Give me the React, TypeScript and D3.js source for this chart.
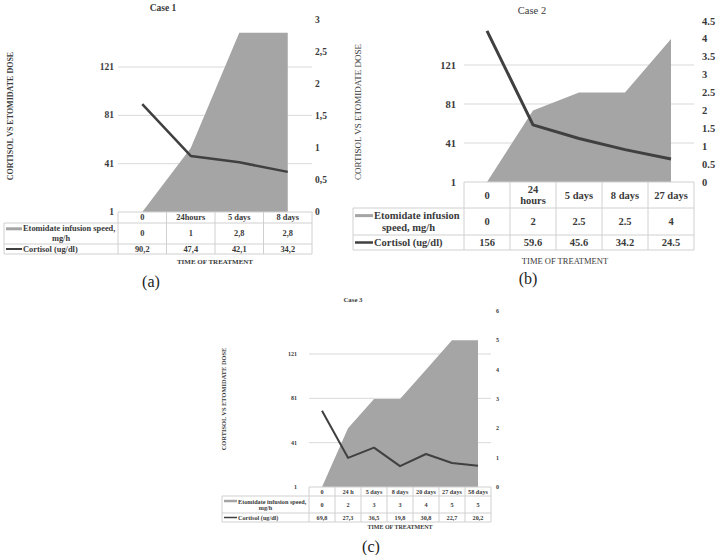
import React from "react";
import * as d3 from "d3";

// ---------- data ----------
const case1Times = ["0", "24hours", "5 days", "8 days"];
const case1Etomidate = [0, 1, 2.8, 2.8];
const case1Cortisol = [90.2, 47.4, 42.1, 34.2];

const case2Times = ["0", "24 hours", "5 days", "8 days", "27 days"];
const case2Etomidate = [0, 2, 2.5, 2.5, 4];
const case2Cortisol = [156, 59.6, 45.6, 34.2, 24.5];

const case3Times = ["0", "24 h", "5 days", "8 days", "20 days", "27 days", "58 days"];
const case3Etomidate = [0, 2, 3, 3, 4, 5, 5];
const case3Cortisol = [69.8, 27.3, 36.5, 19.8, 30.8, 22.7, 20.2];

const leftTicks = [1, 41, 81, 121];
const case1RightTicks = [0, 0.5, 1, 1.5, 2, 2.5, 3];
const case2RightTicks = [0, 0.5, 1, 1.5, 2, 2.5, 3, 3.5, 4, 4.5];
const case3RightTicks = [0, 1, 2, 3, 4, 5, 6];

const caseTitles = ["Case 1", "Case 2", "Case 3"];
const panelLetters = ["(a)", "(b)", "(c)"];
const seriesEtomidate = "Etomidate infusion speed, mg/h";
const seriesCortisol = "Cortisol (ug/dl)";
const yAxisTitle = "CORTISOL VS ETOMIDATE DOSE";
const xAxisTitle = "TIME OF TREATMENT";

// ---------- helpers ----------
const FONT = '"Liberation Serif", "Times New Roman", serif';
let _ctx: CanvasRenderingContext2D | null = null;
function textWidth(t: string, font: string) {
  if (!_ctx) _ctx = document.createElement("canvas").getContext("2d");
  _ctx!.font = font;
  return _ctx!.measureText(t).width;
}
function wrap(t: string, size: number, weight: string, max: number) {
  const font = `${weight} ${size}px "Liberation Serif"`;
  const words = t.split(" ");
  const lines: string[] = [];
  let cur = "";
  for (const w of words) {
    const test = cur ? cur + " " + w : w;
    if (cur && textWidth(test, font) > max) {
      lines.push(cur);
      cur = w;
    } else cur = test;
  }
  if (cur) lines.push(cur);
  return lines;
}
const commaFmt = (v: number) => String(v).replace(".", ",");
const dotFmt = (v: number) => String(v);

type Layout = {
  plotLeft: number; plotRight: number; yBase: number; y121: number;
  rightMax: number; yRightMax: number;
  tableLeft: number; rows: number[];
  tickSize: number; tickWeight: string; leftLabelX: number; rightLabelX: number;
  tableSize: number; headerWrap: number; labelWrap: number; swatchW: number; swatchH: number;
  title: [number, number, number, string];
  xTitle: [number, number, number, string];
  yTitle: [number, number, number, string];
  letter: [number, number, number];
  lineW: number;
};

const layout1: Layout = {
  plotLeft: 118, plotRight: 312, yBase: 212, y121: 67, rightMax: 3, yRightMax: 20,
  tableLeft: 4, rows: [212, 223, 244, 254],
  tickSize: 9.5, tickWeight: "bold", leftLabelX: 114, rightLabelX: 315,
  tableSize: 8.4, headerWrap: 44, labelWrap: 98, swatchW: 16, swatchH: 3,
  title: [163, 8, 9.5, "bold"], xTitle: [215, 262, 7, "bold"], yTitle: [10, 116, 8, "bold"],
  letter: [151, 281, 16], lineW: 2.5,
};
const layout2: Layout = {
  plotLeft: 464, plotRight: 694, yBase: 182, y121: 65, rightMax: 4.5, yRightMax: 21,
  tableLeft: 353, rows: [182, 208, 235, 250],
  tickSize: 10.5, tickWeight: "bold", leftLabelX: 456, rightLabelX: 702,
  tableSize: 10.5, headerWrap: 36, labelWrap: 90, swatchW: 18, swatchH: 3,
  title: [532, 10, 10.5, "normal"], xTitle: [565, 261, 8.5, "normal"], yTitle: [358, 112, 9, "normal"],
  letter: [528, 278, 16], lineW: 3,
};
const layout3: Layout = {
  plotLeft: 309, plotRight: 491, yBase: 487, y121: 354, rightMax: 6, yRightMax: 311,
  tableLeft: 222, rows: [487, 496, 513, 522],
  tickSize: 6, tickWeight: "bold", leftLabelX: 297, rightLabelX: 496,
  tableSize: 6.2, headerWrap: 24, labelWrap: 74, swatchW: 13, swatchH: 2.5,
  title: [353, 299, 6.8, "bold"], xTitle: [400, 527, 6, "bold"], yTitle: [223, 399, 6.4, "bold"],
  letter: [371, 546, 16], lineW: 2,
};

const AREA = "#a5a5a5";
const LINE = "#404040";
const GRID = "#d9d9d9";
const BORDER = "#d0d0d0";
const TEXT = "#3a3a3a";

function Panel(props: {
  times: string[]; etomidate: number[]; cortisol: number[]; rightTicks: number[];
  fmt: (v: number) => string; L: Layout; title: string; letter: string;
}) {
  const { times, etomidate, cortisol, rightTicks, fmt, L, title, letter } = props;
  const x = d3.scalePoint<string>().domain(times).range([L.plotLeft, L.plotRight]).padding(0.5);
  const yL = d3.scaleLinear().domain([1, 121]).range([L.yBase, L.y121]);
  const yR = d3.scaleLinear().domain([0, L.rightMax]).range([L.yBase, L.yRightMax]);
  const step = x.step();
  const area = d3.area<number>().x((_, i) => x(times[i])!).y0(yR(0)).y1((d) => yR(d));
  const line = d3.line<number>().x((_, i) => x(times[i])!).y((d) => yL(d));
  const edges = times.map((t) => x(t)! - step / 2).concat([L.plotRight]);
  const [r0, r1, r2, r3] = L.rows;
  const fs = L.tableSize;
  const lh = fs * 1.12;
  const labelLines = wrap(seriesEtomidate, fs, "bold", L.labelWrap);
  const cellCx = (L.tableLeft + L.plotLeft) / 2;
  const pad = 2;
  const row2c = (r1 + r2) / 2;
  const row3c = (r2 + r3) / 2;
  const textStyle = { fontFamily: FONT, fill: TEXT } as React.CSSProperties;

  return (
    <g>
      {/* gridlines */}
      {leftTicks.filter((v) => v !== 1).map((v) => (
        <line key={"g" + v} x1={L.plotLeft} x2={L.plotRight} y1={yL(v)} y2={yL(v)} stroke={GRID} strokeWidth={1} />
      ))}
      <path d={area(etomidate)!} fill={AREA} />
      <path d={line(cortisol)!} fill="none" stroke={LINE} strokeWidth={L.lineW} strokeLinejoin="round" />

      {/* table borders */}
      <line x1={L.plotLeft} x2={L.plotRight} y1={r0} y2={r0} stroke={BORDER} />
      {[r1, r2, r3].map((r) => (
        <line key={"h" + r} x1={L.tableLeft} x2={L.plotRight} y1={r} y2={r} stroke={BORDER} />
      ))}
      <line x1={L.tableLeft} x2={L.tableLeft} y1={r1} y2={r3} stroke={BORDER} />
      {edges.map((e, i) => (
        <line key={"v" + i} x1={e} x2={e} y1={r0} y2={r3} stroke={BORDER} />
      ))}

      {/* header row */}
      {times.map((t) => {
        const ls = wrap(t, fs, "bold", L.headerWrap);
        const c = (r0 + r1) / 2;
        return ls.map((s, j) => (
          <text key={t + j} x={x(t)} y={c + (j - (ls.length - 1) / 2) * lh} textAnchor="middle"
            dominantBaseline="central" fontSize={fs} fontWeight="bold" style={textStyle}>{s}</text>
        ));
      })}

      {/* row labels */}
      {labelLines.map((s, j) => {
        const yy = row2c + (j - (labelLines.length - 1) / 2) * lh;
        if (j === 0) {
          return (
            <g key={"ll" + j}>
              <rect x={L.tableLeft + pad} y={yy - L.swatchH / 2} width={L.swatchW} height={L.swatchH} fill={AREA} />
              <text x={L.tableLeft + pad + L.swatchW + 1} y={yy} dominantBaseline="central" fontSize={fs}
                fontWeight="bold" style={textStyle}>{s}</text>
            </g>
          );
        }
        return (
          <text key={"ll" + j} x={cellCx} y={yy} textAnchor="middle" dominantBaseline="central" fontSize={fs}
            fontWeight="bold" style={textStyle}>{s}</text>
        );
      })}
      <line x1={L.tableLeft + pad} x2={L.tableLeft + pad + L.swatchW} y1={row3c} y2={row3c} stroke={LINE}
        strokeWidth={Math.max(1.5, L.lineW - 0.5)} />
      <text x={L.tableLeft + pad + L.swatchW + 1} y={row3c} dominantBaseline="central" fontSize={fs}
        fontWeight="bold" style={textStyle}>{seriesCortisol}</text>

      {/* values */}
      {times.map((t, i) => (
        <text key={"e" + t} x={x(t)} y={row2c} textAnchor="middle" dominantBaseline="central" fontSize={fs}
          fontWeight="bold" style={textStyle}>{fmt(etomidate[i])}</text>
      ))}
      {times.map((t, i) => (
        <text key={"c" + t} x={x(t)} y={row3c} textAnchor="middle" dominantBaseline="central" fontSize={fs}
          fontWeight="bold" style={textStyle}>{fmt(cortisol[i])}</text>
      ))}

      {/* axes labels */}
      {leftTicks.map((v) => (
        <text key={"l" + v} x={L.leftLabelX} y={yL(v)} textAnchor="end" dominantBaseline="central"
          fontSize={L.tickSize} fontWeight={L.tickWeight} style={textStyle}>{fmt(v)}</text>
      ))}
      {rightTicks.map((v) => (
        <text key={"r" + v} x={L.rightLabelX} y={yR(v)} textAnchor="start" dominantBaseline="central"
          fontSize={L.tickSize} fontWeight={L.tickWeight} style={textStyle}>{fmt(v)}</text>
      ))}

      {/* titles */}
      <text x={L.title[0]} y={L.title[1]} textAnchor="middle" dominantBaseline="central" fontSize={L.title[2]}
        fontWeight={L.title[3]} style={textStyle}>{title}</text>
      <text x={L.xTitle[0]} y={L.xTitle[1]} textAnchor="middle" dominantBaseline="central" fontSize={L.xTitle[2]}
        fontWeight={L.xTitle[3]} style={textStyle}>{xAxisTitle}</text>
      <text transform={`translate(${L.yTitle[0]},${L.yTitle[1]}) rotate(-90)`} textAnchor="middle"
        dominantBaseline="central" fontSize={L.yTitle[2]} fontWeight={L.yTitle[3]} style={textStyle}>{yAxisTitle}</text>
      <text x={L.letter[0]} y={L.letter[1]} textAnchor="middle" dominantBaseline="central" fontSize={L.letter[2]}
        style={{ fontFamily: FONT, fill: "#222" }}>{letter}</text>
    </g>
  );
}

export default function App() {
  return (
    <div style={{ position: "absolute", left: 0, top: 0, width: 720, height: 555, background: "#fff" }}>
      <svg width={720} height={555} viewBox="0 0 720 555" style={{ display: "block" }}>
        <rect width={720} height={555} fill="#fff" />
        <Panel times={case1Times} etomidate={case1Etomidate} cortisol={case1Cortisol} rightTicks={case1RightTicks}
          fmt={commaFmt} L={layout1} title={caseTitles[0]} letter={panelLetters[0]} />
        <Panel times={case2Times} etomidate={case2Etomidate} cortisol={case2Cortisol} rightTicks={case2RightTicks}
          fmt={dotFmt} L={layout2} title={caseTitles[1]} letter={panelLetters[1]} />
        <Panel times={case3Times} etomidate={case3Etomidate} cortisol={case3Cortisol} rightTicks={case3RightTicks}
          fmt={commaFmt} L={layout3} title={caseTitles[2]} letter={panelLetters[2]} />
      </svg>
    </div>
  );
}
